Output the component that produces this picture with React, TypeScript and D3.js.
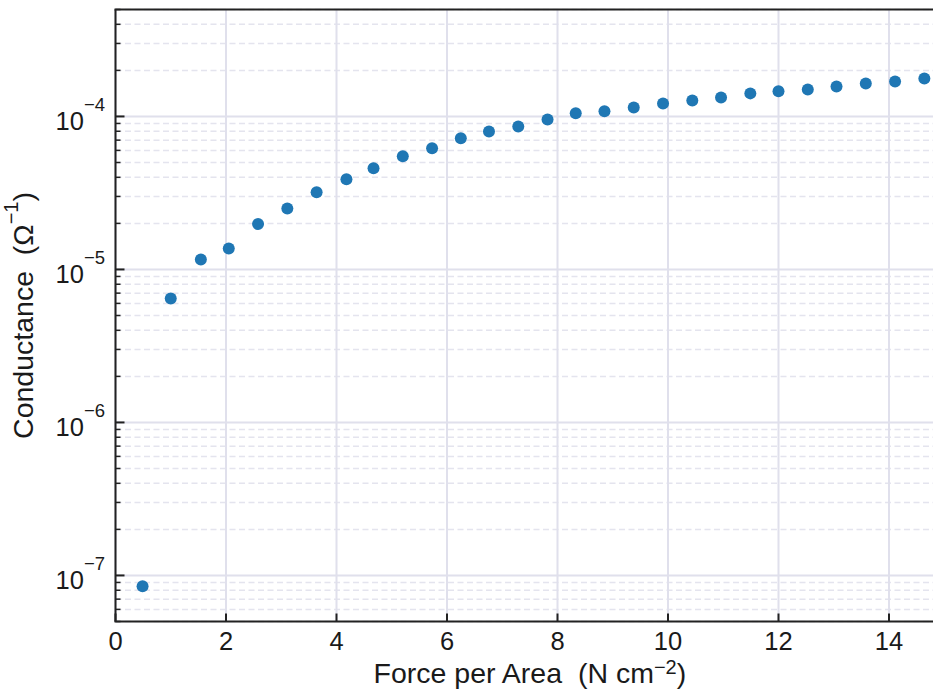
import React from 'react';
import * as d3 from 'd3';

// force per area (N cm^-2)
const force = [0.49, 1.0, 1.545, 2.05, 2.58, 3.11, 3.64, 4.18, 4.67, 5.2, 5.73, 6.25, 6.76, 7.29,
  7.82, 8.33, 8.85, 9.38, 9.91, 10.44, 10.96, 11.49, 12.0, 12.53, 13.05, 13.58, 14.11, 14.64];
// conductance (1/ohm)
const conductance = [8.5e-8, 6.45e-6, 1.16e-5, 1.37e-5, 1.98e-5, 2.5e-5, 3.19e-5, 3.89e-5, 4.58e-5,
  5.49e-5, 6.2e-5, 7.2e-5, 7.98e-5, 8.6e-5, 9.55e-5, 1.05e-4, 1.08e-4, 1.145e-4, 1.216e-4, 1.27e-4,
  1.33e-4, 1.415e-4, 1.46e-4, 1.5e-4, 1.57e-4, 1.64e-4, 1.69e-4, 1.77e-4];

const xTicks = [0, 2, 4, 6, 8, 10, 12, 14];
const yExponents = [-7, -6, -5, -4];

const W = 933;
const H = 695;
const margin = { left: 115.5, top: 9.5, bottom: 621.5 };
const FONT = "'Liberation Sans', Arial, sans-serif";

export default function App() {
  const x = d3.scaleLinear().domain([0, 15]).range([margin.left, margin.left + 15 * 55.25]);
  const y = d3.scaleLog().domain([5e-8, 5e-4]).range([margin.bottom, margin.top]);

  // minor ticks 2..9 x 10^k that fall inside the domain
  const minor: number[] = [];
  for (let k = -8; k <= -4; k++) {
    for (let m = 2; m <= 9; m++) {
      const v = m * Math.pow(10, k);
      if (v >= 5e-8 && v <= 5e-4) minor.push(v);
    }
  }

  const right = x.range()[1];
  const data = force.map((f, i) => ({ f, c: conductance[i] }));

  return (
    <svg width={W} height={H} style={{ position: 'absolute', left: 0, top: 0, background: '#fff' }}
      fontFamily={FONT}>
      {/* minor grid */}
      {minor.map(v => (
        <line key={'mg' + v} x1={margin.left} x2={right} y1={y(v)} y2={y(v)}
          stroke="#e4e4ee" strokeWidth={1.5} strokeDasharray="6,3.5" />
      ))}
      {/* major grid */}
      {yExponents.map(e => (
        <line key={'yg' + e} x1={margin.left} x2={right} y1={y(Math.pow(10, e))} y2={y(Math.pow(10, e))}
          stroke="#e0e0ec" strokeWidth={2} />
      ))}
      {xTicks.map(t => (
        <line key={'xg' + t} x1={x(t)} x2={x(t)} y1={margin.top} y2={margin.bottom}
          stroke="#e0e0ec" strokeWidth={2} />
      ))}

      {/* points */}
      {data.map((d, i) => (
        <circle key={i} cx={x(d.f)} cy={y(d.c)} r={6} fill="#1f77b4" />
      ))}

      {/* ticks */}
      {minor.map(v => (
        <line key={'mt' + v} x1={margin.left} x2={margin.left + 5} y1={y(v)} y2={y(v)}
          stroke="#222" strokeWidth={1.5} />
      ))}
      {yExponents.map(e => (
        <line key={'yt' + e} x1={margin.left} x2={margin.left + 9} y1={y(Math.pow(10, e))} y2={y(Math.pow(10, e))}
          stroke="#222" strokeWidth={2} />
      ))}
      {xTicks.map(t => (
        <line key={'xt' + t} x1={x(t)} x2={x(t)} y1={margin.bottom} y2={margin.bottom - 8}
          stroke="#222" strokeWidth={2} />
      ))}

      {/* spines */}
      <line x1={margin.left} x2={margin.left} y1={margin.top} y2={margin.bottom} stroke="#222" strokeWidth={2} />
      <line x1={margin.left - 1} x2={right} y1={margin.top} y2={margin.top} stroke="#222" strokeWidth={2} />
      <line x1={margin.left - 1} x2={right} y1={margin.bottom} y2={margin.bottom} stroke="#222" strokeWidth={2} />

      {/* tick labels */}
      {xTicks.map(t => (
        <text key={'xl' + t} x={x(t)} y={650} textAnchor="middle" fontSize={25.5} fill="#1a1a1a">{t}</text>
      ))}
      {yExponents.map(e => (
        <text key={'yl' + e} x={105} y={y(Math.pow(10, e)) + 14} textAnchor="end" fontSize={25.5} fill="#1a1a1a">
          10<tspan dy={-19} fontSize={18.5}>{'\u2212' + Math.abs(e)}</tspan>
        </text>
      ))}

      {/* axis labels */}
      <text x={(margin.left + right) / 2} y={683} textAnchor="middle" fontSize={28.5} fill="#1a1a1a">
        Force per Area{'\u00a0\u00a0'}(N cm<tspan dy={-9} fontSize={20}>{'\u22122'}</tspan><tspan dy={9}>)</tspan>
      </text>
      <text transform={`translate(33, ${(margin.top + margin.bottom) / 2}) rotate(-90)`} textAnchor="middle"
        fontSize={28.5} fill="#1a1a1a">
        Conductance{'\u00a0\u00a0'}(Ω<tspan dy={-15} fontSize={20}>{'\u22121'}</tspan><tspan dy={15}>)</tspan>
      </text>
    </svg>
  );
}
